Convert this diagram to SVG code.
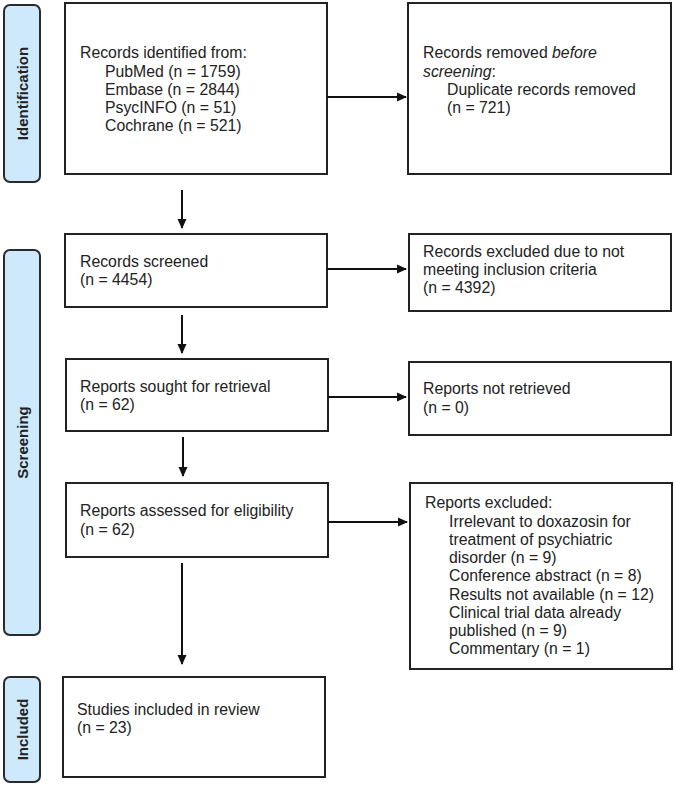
<svg xmlns="http://www.w3.org/2000/svg" width="675" height="786" viewBox="0 0 675 786">
<style>
.box{fill:#fff;stroke:#222;stroke-width:2}
.side{fill:#cde9fb;stroke:#2a2a2a;stroke-width:2}
.t{font-family:"Liberation Sans",Arial,sans-serif;font-size:15.8px;fill:#222}
.s{font-family:"Liberation Sans",Arial,sans-serif;font-size:15px;font-weight:bold;fill:#222}
.c{stroke:#111;stroke-width:2;fill:none;marker-end:url(#ah)}
</style>
<defs>
<marker id="ah" markerWidth="10" markerHeight="10" refX="9" refY="5" orient="auto" markerUnits="userSpaceOnUse">
<path d="M0,0.5 L10,5 L0,9.5 Z" fill="#111"/>
</marker>
</defs>
<rect width="675" height="786" fill="#fff"/>
<g id="side-identification">
<rect class="side" x="4" y="5" width="36" height="177" rx="6"/>
<text class="s" transform="translate(27.5,93.5) rotate(-90)" text-anchor="middle">Identification</text>
</g>
<g id="side-screening">
<rect class="side" x="4" y="250" width="36" height="385" rx="6"/>
<text class="s" transform="translate(27.5,442.5) rotate(-90)" text-anchor="middle">Screening</text>
</g>
<g id="side-included">
<rect class="side" x="4" y="677" width="36" height="105" rx="6"/>
<text class="s" transform="translate(27.5,729.5) rotate(-90)" text-anchor="middle">Included</text>
</g>
<g id="identified">
<rect class="box" x="65" y="3" width="262" height="171"/>
<text class="t" x="80" y="58">Records identified from:</text>
<text class="t" x="105" y="77">PubMed (n = 1759)</text>
<text class="t" x="105" y="95">Embase (n = 2844)</text>
<text class="t" x="105" y="113">PsycINFO (n = 51)</text>
<text class="t" x="105" y="131">Cochrane (n = 521)</text>
</g>
<g id="removed">
<rect class="box" x="408" y="3" width="263" height="171"/>
<text class="t" x="423" y="58">Records removed <tspan font-style="italic">before</tspan></text>
<text class="t" x="423" y="77"><tspan font-style="italic">screening</tspan>:</text>
<text class="t" x="447" y="95">Duplicate records removed</text>
<text class="t" x="447" y="113">(n = 721)</text>
</g>
<g id="screened">
<rect class="box" x="65" y="234" width="262" height="73"/>
<text class="t" x="80" y="267">Records screened</text>
<text class="t" x="80" y="285">(n = 4454)</text>
</g>
<g id="excluded1">
<rect class="box" x="409" y="234" width="262" height="77"/>
<text class="t" x="423" y="257">Records excluded due to not</text>
<text class="t" x="423" y="275">meeting inclusion criteria</text>
<text class="t" x="423" y="293">(n = 4392)</text>
</g>
<g id="sought">
<rect class="box" x="66" y="359" width="262" height="72"/>
<text class="t" x="80" y="392">Reports sought for retrieval</text>
<text class="t" x="80" y="410">(n = 62)</text>
</g>
<g id="notretrieved">
<rect class="box" x="409" y="362" width="262" height="73"/>
<text class="t" x="423" y="394">Reports not retrieved</text>
<text class="t" x="423" y="413">(n = 0)</text>
</g>
<g id="assessed">
<rect class="box" x="66" y="483" width="262" height="74"/>
<text class="t" x="80" y="516">Reports assessed for eligibility</text>
<text class="t" x="80" y="535">(n = 62)</text>
</g>
<g id="excluded2">
<rect class="box" x="410" y="483" width="262" height="186"/>
<text class="t" x="425" y="508">Reports excluded:</text>
<text class="t" x="449" y="527">Irrelevant to doxazosin for</text>
<text class="t" x="449" y="545">treatment of psychiatric</text>
<text class="t" x="449" y="563">disorder (n = 9)</text>
<text class="t" x="449" y="581">Conference abstract (n = 8)</text>
<text class="t" x="449" y="600">Results not available (n = 12)</text>
<text class="t" x="449" y="618">Clinical trial data already</text>
<text class="t" x="449" y="636">published (n = 9)</text>
<text class="t" x="449" y="654">Commentary (n = 1)</text>
</g>
<g id="included">
<rect class="box" x="63" y="677" width="262" height="100"/>
<text class="t" x="77" y="715">Studies included in review</text>
<text class="t" x="77" y="733">(n = 23)</text>
</g>
<g id="connectors">
<line class="c" x1="327" y1="97" x2="406" y2="97"/>
<line class="c" x1="182" y1="190" x2="182" y2="228"/>
<line class="c" x1="327" y1="269" x2="406" y2="269"/>
<line class="c" x1="182" y1="315" x2="182" y2="353"/>
<line class="c" x1="328" y1="397" x2="406" y2="397"/>
<line class="c" x1="183" y1="437" x2="183" y2="476"/>
<line class="c" x1="328" y1="522" x2="407" y2="522"/>
<line class="c" x1="182" y1="563" x2="182" y2="664"/>
</g>
</svg>
